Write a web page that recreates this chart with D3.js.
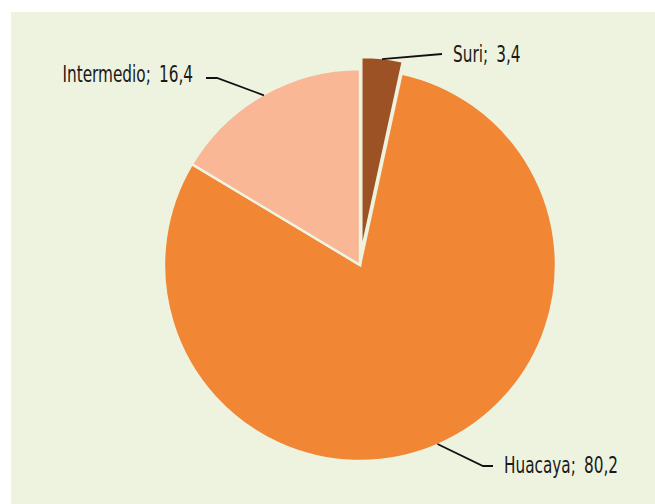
<!DOCTYPE html>
<html>
<head>
<meta charset="utf-8">
<script src="https://cdn.jsdelivr.net/npm/d3@7"></script>
<style>
  html, body { margin: 0; padding: 0; background: #ffffff; }
  svg { display: block; }
</style>
</head>
<body>
<div id="chart"></div>
<script>
// Data (percent)
const categories = ["Suri", "Huacaya", "Intermedio"];
const values = [3.4, 80.2, 16.4];
const colors = ["#9c5224", "#f18634", "#f9b796"];

const width = 655;
const height = 504;
const bg = "#eef3e0";

const cx = 360, cy = 265, radius = 196;
const explode = { Suri: 12 };
const squeeze = 0.665; // condensed look for the labels

// where each label's leader line ends (elbow, end, text anchor)
const labelLayout = {
  Suri:       { elbow: null,       end: [442, 54],  text: [453, 62],  anchor: "start" },
  Huacaya:    { elbow: [483, 466], end: [493, 466], text: [504, 473], anchor: "start" },
  Intermedio: { elbow: [217, 78],  end: [206, 78],  text: [193, 82],  anchor: "end" }
};

const rows = categories.map((c, i) => ({ name: c, value: values[i], color: colors[i] }));

const svg = d3.select("#chart").append("svg")
  .attr("width", width)
  .attr("height", height);

svg.append("rect")
  .attr("x", 11).attr("y", 12)
  .attr("width", width - 11).attr("height", height - 12)
  .attr("fill", bg);

const pie = d3.pie().sort(null).value(d => d.value);
const arc = d3.arc().innerRadius(0).outerRadius(radius);
const arcs = pie(rows);

const g = svg.append("g").attr("transform", `translate(${cx},${cy})`);

function offset(d) {
  const k = explode[d.data.name] || 0;
  const a = (d.startAngle + d.endAngle) / 2;
  return [k * Math.sin(a), -k * Math.cos(a)];
}

g.selectAll("path.slice")
  .data(arcs)
  .join("path")
  .attr("class", "slice")
  .attr("transform", d => `translate(${offset(d)})`)
  .attr("d", arc)
  .attr("fill", d => d.data.color)
  .attr("stroke", bg)
  .attr("stroke-width", 2.5)
  .attr("stroke-linejoin", "miter");

// leader lines + labels
const labels = svg.append("g");
arcs.forEach(d => {
  const a = (d.startAngle + d.endAngle) / 2;
  const [ox, oy] = offset(d);
  const start = [cx + ox + (radius - 1) * Math.sin(a), cy + oy - (radius - 1) * Math.cos(a)];
  const L = labelLayout[d.data.name];
  const pts = [start];
  if (L.elbow) pts.push(L.elbow);
  pts.push(L.end);

  labels.append("path")
    .attr("d", d3.line()(pts))
    .attr("fill", "none")
    .attr("stroke", "#111")
    .attr("stroke-width", 1.8);

  labels.append("text")
    .attr("transform", `translate(${L.text[0]},${L.text[1]}) scale(${squeeze},1)`)
    .attr("text-anchor", L.anchor)
    .attr("font-family", "'DejaVu Sans', sans-serif")
    .attr("font-size", 23)
    .attr("word-spacing", 5)
    .attr("fill", "#1a1a1a")
    .text(`${d.data.name}; ${String(d.data.value).replace(".", ",")}`);
});
</script>
</body>
</html>
